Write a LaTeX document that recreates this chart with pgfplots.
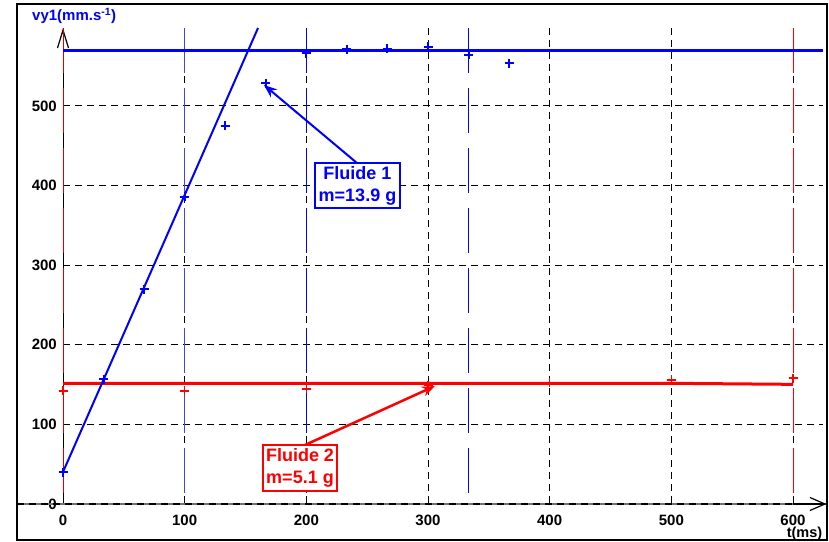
\documentclass[border=0pt]{standalone}
\usepackage{pgfplots}
\pgfplotsset{compat=1.18}
\usepackage{fontspec}
\setmainfont{Liberation Sans}
\usetikzlibrary{arrows.meta}
\definecolor{cblue}{RGB}{0,0,255}
\definecolor{cred}{RGB}{255,0,0}
\begin{document}
\begin{tikzpicture}
\begin{axis}[
  scale only axis, width=810pt, height=536pt,
  xmin=-37.81, xmax=627.95, ymin=-45.23, ymax=628.14,
  axis line style={line width=2pt, black},
  xtick={0,100,...,600}, ytick={0,100,...,500},
  major tick length=0pt,
  /pgf/number format/assume math mode=true,
  tick label style={font=\fontsize{15}{15}\selectfont\bfseries},
  xticklabel style={anchor=center, yshift=20pt},
  yticklabel style={anchor=east, inner sep=0pt, xshift=40pt},
  clip=false,
]
% black dashed grid
\foreach \yy in {100,200,300,400,500} {
  \edef\temp{\noexpand\draw[black, line width=1pt, dash pattern=on 7pt off 5pt] (axis cs:0,\yy) -- (axis cs:624.6,\yy);}
  \temp
}
\foreach \xx in {100,200,300,400,500,600} {
  \edef\temp{\noexpand\draw[black, line width=1pt, dash pattern=on 7pt off 5pt] (axis cs:\xx,598) -- (axis cs:\xx,0);}
  \temp
}
% axes
\draw[black, line width=1pt] (axis cs:0,0) -- (axis cs:0,598);
\draw[black, line width=1.2pt, -{Straight Barb[length=18pt,width=11pt]}] (axis cs:0,590) -- (axis cs:0,598);
\draw[black!55, line width=2pt] (axis cs:-37.81,0) -- (axis cs:627.5,0);
\draw[black, line width=2pt, dash pattern=on 7pt off 5pt] (axis cs:-37.81,0) -- (axis cs:615,0);
\draw[black, line width=1.2pt, -{Straight Barb[length=15pt,width=13pt]}] (axis cs:600,0) -- (axis cs:627.5,0);
% coloured long-dashed verticals
\draw[cblue!75, line width=1pt, dash pattern=on 45pt off 15pt] (axis cs:100,598) -- (axis cs:100,0);
\draw[cblue, line width=1pt, dash pattern=on 45pt off 15pt] (axis cs:200,598) -- (axis cs:200,0);
\draw[cblue, line width=1pt, dash pattern=on 45pt off 15pt] (axis cs:333.33,598) -- (axis cs:333.33,0);
\draw[cred!85!black, line width=0.8pt, dash pattern=on 45pt off 15pt] (axis cs:0,598) -- (axis cs:0,0);
\draw[cred, line width=0.8pt, dash pattern=on 45pt off 15pt] (axis cs:600,598) -- (axis cs:600,0);
% Fluide 2 model line
\addplot[cred, line width=3pt, no marks] coordinates {(0,151.6) (500,151.6) (600,150.3)};
% Fluide 1 lines
\addplot[cblue, line width=3pt, no marks] coordinates {(0,569.5) (624.6,569.5)};
\addplot[cblue, line width=2pt, no marks] coordinates {(0,40.2) (160.3,598)};
% Fluide 2 points
\addplot[cred, only marks, mark=+, mark size=4.5pt, mark options={line width=1.6pt}] coordinates {
(0,142.3) (100,142.3) (200,144.5) (300,149) (400,152.4) (500,155.8) (600,157.9)};
% Fluide 1 points
\addplot[cblue, only marks, mark=+, mark size=4.5pt, mark options={line width=2pt}] coordinates {
(0,39.8) (33.3,156.8) (66.7,269.7) (100,386.1) (133.3,474.9) (166.7,528.5)
(200,566.2) (233.3,571.2) (266.7,571.6) (300,574.5) (333.3,564.1) (366.7,553.6)};
% annotations
\draw[cblue, line width=2pt, -{Stealth[length=13pt,width=10pt]}] (axis cs:241.6,428.4) -- (axis cs:165.2,526.4);
\node[draw=cblue, line width=2pt, fill=white, text=cblue, minimum width=85pt, minimum height=45pt, inner sep=0pt, align=center,
  font=\fontsize{18}{22}\selectfont\bfseries] at (axis cs:242.05,400.1) {Fluide 1\\m=13.9 g};
\draw[cred, line width=2.5pt, -{Stealth[length=13pt,width=10pt]}] (axis cs:198.9,74.1) -- (axis cs:305.7,148.2);
\node[draw=cred, line width=2pt, fill=white, text=cred, minimum width=74pt, minimum height=46pt, inner sep=0pt, align=center,
  font=\fontsize{18}{22}\selectfont\bfseries] at (axis cs:194.8,45.2) {Fluide 2\\m=5.1 g};
% axis labels
\node[anchor=west, inner sep=0pt, text=cblue, font=\fontsize{15}{15}\selectfont\bfseries] at (axis cs:-25.5,613.1) {vy1(mm.s\textsuperscript{-1})};
\node[inner sep=0pt, font=\fontsize{14.5}{14.5}\selectfont\bfseries] at (axis cs:609.5,-38.0) {t(ms)};
\end{axis}
\path (current axis.south west) ++(-17pt,-2pt);
\path (current axis.north east) ++(2pt,4pt);
\end{tikzpicture}
\end{document}
